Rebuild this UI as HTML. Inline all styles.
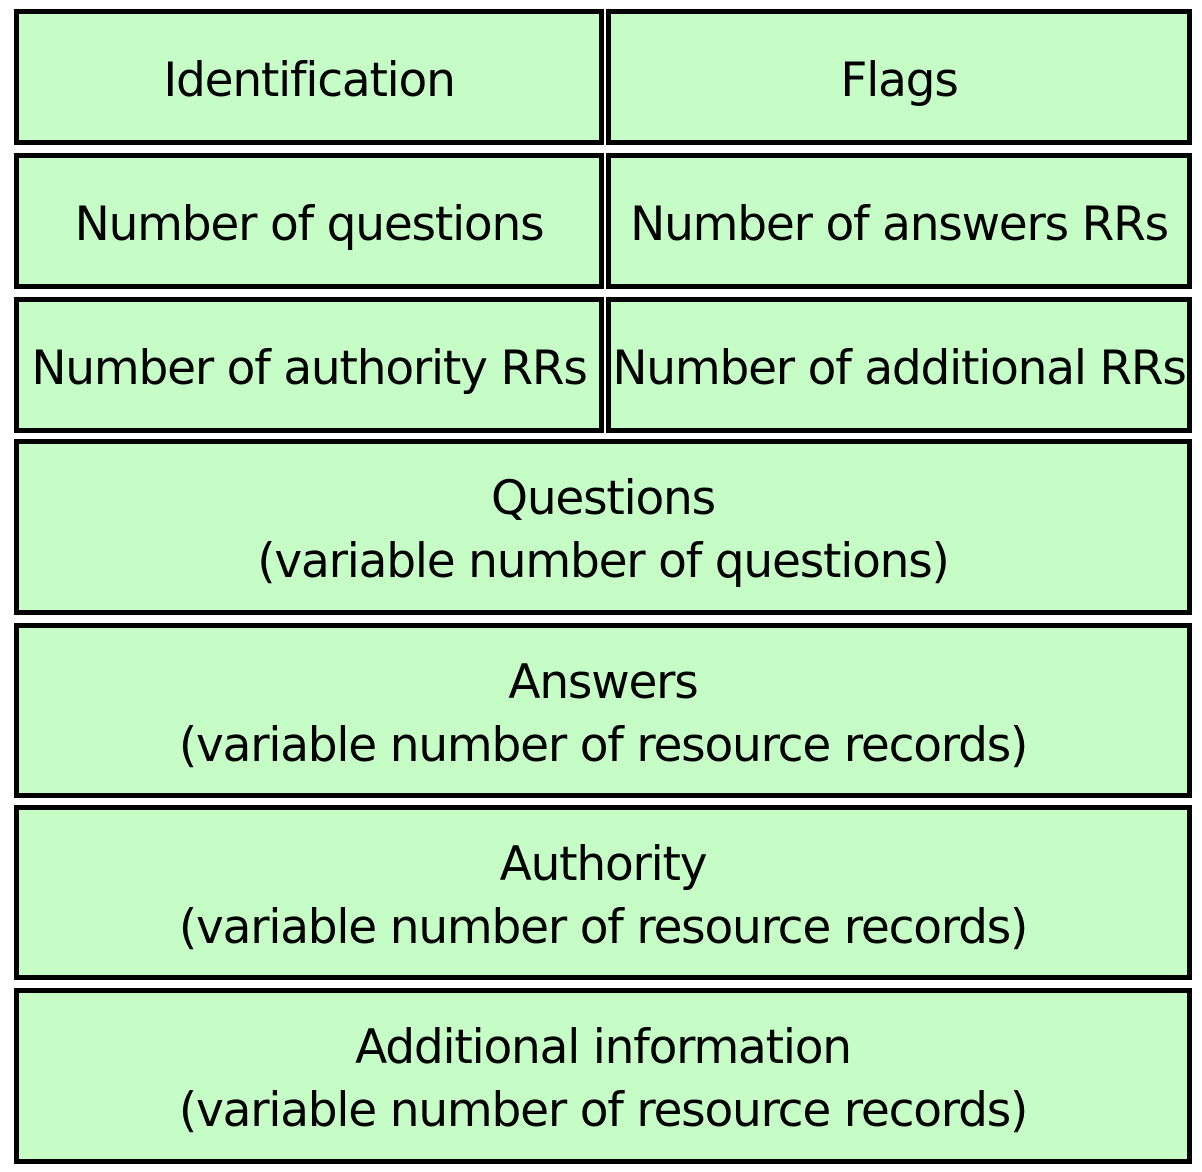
<!DOCTYPE html>
<html><head><style>
body{margin:0;width:1202px;height:1172px;background:#fff;position:relative;overflow:hidden;font-family:"DejaVu Sans","Liberation Sans",sans-serif;}
.b{position:absolute;box-sizing:border-box;border:5px solid #000;background:#c6fdc6;display:flex;align-items:center;justify-content:center;text-align:center;font-size:47px;line-height:63px;color:#000;white-space:nowrap;letter-spacing:-1.2px;padding-top:6px}
</style></head><body>
<div class="b" style="left:14px;top:9px;width:590px;height:136px">Identification</div>
<div class="b" style="left:606px;top:9px;width:586px;height:136px">Flags</div>
<div class="b" style="left:14px;top:153px;width:590px;height:136px">Number of questions</div>
<div class="b" style="left:606px;top:153px;width:586px;height:136px">Number of answers RRs</div>
<div class="b" style="left:14px;top:297px;width:590px;height:136px">Number of authority RRs</div>
<div class="b" style="left:606px;top:297px;width:586px;height:136px">Number of additional RRs</div>
<div class="b" style="left:14px;top:439px;width:1178px;height:176px">Questions<br>(variable number of questions)</div>
<div class="b" style="left:14px;top:623px;width:1178px;height:175px">Answers<br>(variable number of resource records)</div>
<div class="b" style="left:14px;top:805px;width:1178px;height:175px">Authority<br>(variable number of resource records)</div>
<div class="b" style="left:14px;top:988px;width:1178px;height:176px">Additional information<br>(variable number of resource records)</div>
</body></html>
